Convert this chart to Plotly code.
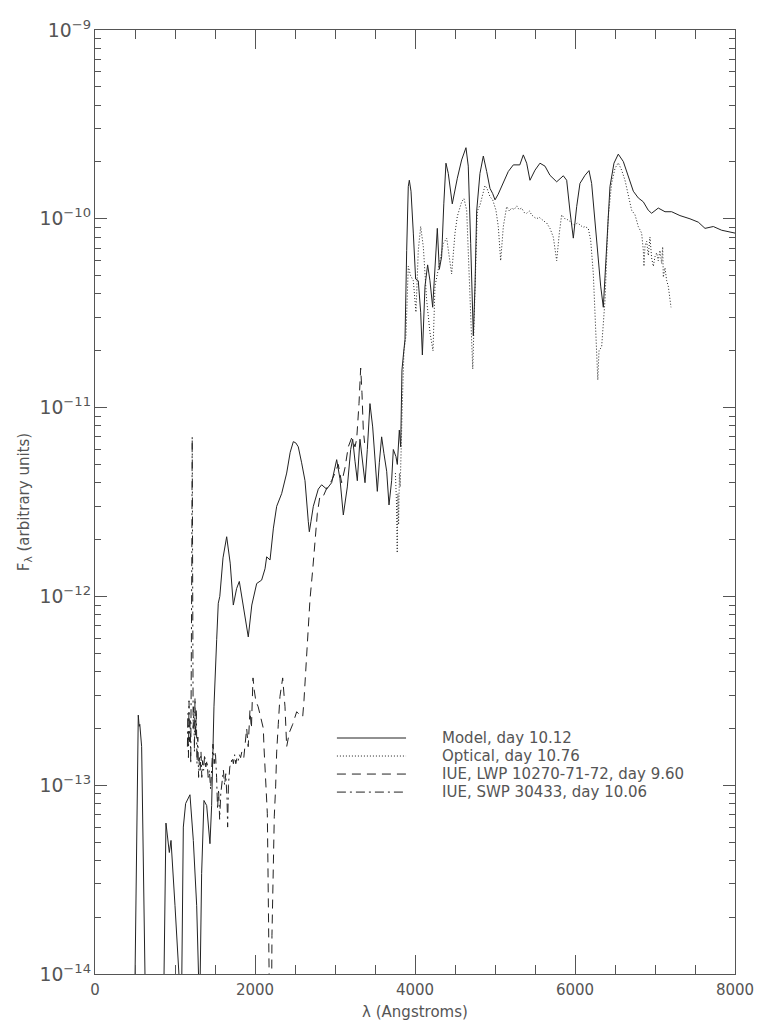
import plotly.graph_objects as go

# ---------------- data ----------------
model_wl = [498, 541, 552, 560, 583, 600, 628,
            860, 887, 929, 950, 1000, 1062,
            1083, 1104, 1133, 1187, 1229, 1271, 1300,
            1312, 1333, 1362, 1396, 1437, 1458, 1487, 1521, 1541, 1560, 1600, 1646,
            1690, 1729, 1770, 1804, 1850, 1916, 1960, 2021, 2083, 2125, 2146, 2188,
            2230, 2271, 2333, 2396, 2440, 2479, 2510, 2541, 2583, 2625, 2666, 2679,
            2700, 2729, 2791, 2833, 2896, 2958, 3021, 3062, 3104, 3154, 3196, 3221,
            3250, 3279, 3312, 3346, 3375, 3404, 3437, 3471, 3500, 3529, 3554, 3583,
            3612, 3646, 3675, 3708, 3729, 3762, 3779, 3804, 3821, 3837, 3855, 3875,
            3896, 3916, 3929, 3950, 3979, 4008, 4041, 4071, 4092, 4125, 4158, 4187,
            4221, 4250, 4279, 4304, 4333, 4360, 4387, 4416, 4466, 4529, 4583, 4637,
            4666, 4696, 4729, 4750, 4771, 4812, 4854, 4896, 4937, 4971, 5000, 5040,
            5104, 5166, 5229, 5270, 5310, 5354, 5396, 5437, 5500, 5562, 5625, 5687,
            5771, 5854, 5896, 5937, 5979, 6021, 6062, 6125, 6175, 6208, 6271, 6321,
            6354, 6387, 6437, 6487, 6541, 6604, 6666, 6729, 6791, 6854, 6916, 6958,
            7041, 7125, 7208, 7312, 7437, 7541, 7625, 7729, 7833, 8000]
model_flux = [8e-15, 2.35e-13, 2.05e-13, 2.1e-13, 1.6e-13, 6e-14, 8e-15,
              8e-15, 6.3e-14, 4.4e-14, 5.1e-14, 2.3e-14, 8e-15,
              8e-15, 6e-14, 8e-14, 8.9e-14, 5.1e-14, 2.3e-14, 8e-15,
              8e-15, 3.4e-14, 8.3e-14, 7.8e-14, 4.9e-14, 7.8e-14, 2.6e-13, 5.9e-13, 9.2e-13, 1.0e-12, 1.6e-12, 2.07e-12,
              1.5e-12, 9e-13, 1.1e-12, 1.2e-12, 9e-13, 6.1e-13, 9e-13, 1.17e-12, 1.22e-12, 1.4e-12, 1.62e-12, 1.56e-12,
              2.3e-12, 3.0e-12, 3.5e-12, 4.5e-12, 5.8e-12, 6.6e-12, 6.5e-12, 6.2e-12, 5.1e-12, 4.1e-12, 2.5e-12, 2.2e-12,
              2.5e-12, 3.0e-12, 3.7e-12, 3.9e-12, 3.7e-12, 4.0e-12, 5.3e-12, 4.2e-12, 2.7e-12, 3.8e-12, 6.0e-12, 6.8e-12,
              5.2e-12, 4.1e-12, 6.8e-12, 5.2e-12, 4.0e-12, 6.0e-12, 1.05e-11, 7.9e-12, 5.2e-12, 3.6e-12, 5.1e-12, 7.0e-12,
              5.7e-12, 4.6e-12, 3.05e-12, 4.1e-12, 6.0e-12, 5.5e-12, 5.0e-12, 7.6e-12, 6.2e-12, 1.58e-11, 1.9e-11, 2.3e-11,
              6.8e-11, 1.48e-10, 1.6e-10, 1.4e-10, 8.4e-11, 4.8e-11, 4.7e-11, 3.2e-11, 1.9e-11, 4.4e-11, 5.7e-11, 4.7e-11,
              3.4e-11, 5.6e-11, 8.9e-11, 5.4e-11, 6.3e-11, 1.2e-10, 1.97e-10, 1.74e-10, 1.2e-10, 1.64e-10, 2.05e-10, 2.38e-10,
              1.9e-10, 7.4e-11, 2.4e-11, 4.4e-11, 1.1e-10, 1.74e-10, 2.15e-10, 1.78e-10, 1.45e-10, 1.36e-10, 1.26e-10, 1.35e-10,
              1.57e-10, 1.78e-10, 1.93e-10, 1.93e-10, 1.93e-10, 2.18e-10, 1.97e-10, 1.6e-10, 1.81e-10, 1.97e-10, 1.9e-10, 1.7e-10,
              1.57e-10, 1.69e-10, 1.6e-10, 1.1e-10, 7.9e-11, 1.16e-10, 1.54e-10, 1.7e-10, 1.8e-10, 1.54e-10, 7.7e-11, 4.4e-11,
              3.4e-11, 5.8e-11, 1.48e-10, 1.97e-10, 2.2e-10, 2.01e-10, 1.7e-10, 1.4e-10, 1.29e-10, 1.23e-10, 1.11e-10, 1.07e-10,
              1.14e-10, 1.09e-10, 1.09e-10, 1.04e-10, 1.0e-10, 9.6e-11, 8.9e-11, 9.1e-11, 8.7e-11, 8.4e-11]

optical_wl = [3755, 3768, 3778, 3786, 3795, 3805, 3815, 3825, 3840, 3862, 3887, 3916, 3945,
              3979, 4012, 4041, 4071, 4104, 4146, 4187, 4225, 4250, 4279, 4312, 4354, 4396,
              4429, 4458, 4500, 4529, 4583, 4612, 4646, 4675, 4708, 4722, 4740, 4750, 4779,
              4812, 4854, 4875, 4900, 4937, 4971, 5012, 5041, 5071, 5104, 5146, 5180, 5208,
              5240, 5271, 5300, 5333, 5365, 5396, 5430, 5458, 5490, 5521, 5550, 5583, 5615,
              5646, 5687, 5729, 5771, 5804, 5833, 5875, 5905, 5937, 5970, 6000, 6030, 6062,
              6100, 6125, 6166, 6196, 6229, 6260, 6285, 6300, 6333, 6375, 6416, 6458, 6500,
              6541, 6583, 6625, 6666, 6708, 6750, 6791, 6833, 6854, 6862, 6875, 6896, 6916,
              6937, 6958, 6979, 7000, 7021, 7041, 7062, 7083, 7096, 7104, 7125, 7146, 7166,
              7187, 7200]
optical_flux = [4.5e-12, 3.2e-12, 1.7e-12, 3.5e-12, 2.4e-12, 4.5e-12, 3.8e-12, 6e-12, 1.0e-11, 2.0e-11, 2.4e-11, 5.6e-11, 5.0e-11,
                4.7e-11, 3.2e-11, 6.8e-11, 9.1e-11, 7.1e-11, 3.7e-11, 2.5e-11, 2.0e-11, 4.4e-11, 5.1e-11, 6.0e-11, 7.4e-11, 7.9e-11,
                6.3e-11, 5.1e-11, 8.4e-11, 1.03e-10, 1.23e-10, 1.28e-10, 1.11e-10, 5.6e-11, 2.5e-11, 1.6e-11, 3.0e-11, 4.4e-11, 1.1e-10,
                1.18e-10, 1.36e-10, 1.5e-10, 1.45e-10, 1.31e-10, 1.26e-10, 1.11e-10, 9.1e-11, 6.0e-11, 9.1e-11, 1.16e-10, 1.1e-10, 1.14e-10,
                1.12e-10, 1.17e-10, 1.12e-10, 1.14e-10, 1.08e-10, 1.07e-10, 1.1e-10, 1.05e-10, 1.02e-10, 1.0e-10, 1.02e-10, 9.9e-11, 9.7e-11,
                9.5e-11, 8.9e-11, 8.0e-11, 6.0e-11, 8.4e-11, 1.05e-10, 1.0e-10, 9.9e-11, 9.7e-11, 9.3e-11, 9.3e-11, 9.5e-11, 9.3e-11,
                9.0e-11, 9.1e-11, 8.9e-11, 7.7e-11, 5.1e-11, 2.5e-11, 1.4e-11, 2.0e-11, 2.1e-11, 3.7e-11, 1.03e-10, 1.54e-10, 1.85e-10,
                1.98e-10, 1.81e-10, 1.6e-10, 1.36e-10, 1.11e-10, 1.05e-10, 9.1e-11, 8.4e-11, 6.8e-11, 5.6e-11, 7.2e-11, 7.6e-11, 6.4e-11,
                8.0e-11, 6.2e-11, 5.6e-11, 6.3e-11, 6.6e-11, 6.0e-11, 6.8e-11, 5.8e-11, 7.1e-11, 4.9e-11, 5.5e-11, 4.7e-11, 4.4e-11,
                3.6e-11, 3.4e-11]

lwp_wl = [1860, 1875, 1896, 1915, 1937, 1955, 1975, 1990, 2010, 2040, 2070, 2104, 2112, 2137,
          2154, 2162, 2171, 2179, 2208, 2212, 2229, 2241, 2258, 2271, 2291, 2312, 2346, 2375,
          2396, 2429, 2471, 2521, 2562, 2596, 2612, 2637, 2666, 2687, 2721, 2750, 2779, 2812,
          2854, 2904, 2958, 3000, 3041, 3083, 3125, 3166, 3208, 3250, 3271, 3300, 3321, 3337,
          3354, 3370]
lwp_flux = [1.4e-13, 1.7e-13, 2.0e-13, 1.6e-13, 2.5e-13, 2.0e-13, 3.7e-13, 3.2e-13, 2.8e-13, 2.6e-13, 2.3e-13, 2.0e-13, 1.6e-13, 9.8e-14,
            7.1e-14, 3.7e-14, 1.6e-14, 8e-15, 8e-15, 1.6e-14, 3.7e-14, 6.8e-14, 9.8e-14, 1.5e-13, 2.1e-13, 2.95e-13, 3.7e-13, 2.6e-13,
            1.6e-13, 1.9e-13, 2.1e-13, 2.45e-13, 2.35e-13, 2.3e-13, 2.8e-13, 4.2e-13, 6.9e-13, 9.6e-13, 1.38e-12, 2.0e-12, 2.75e-12, 3.4e-12,
            3.4e-12, 3.8e-12, 4.1e-12, 4.5e-12, 5.0e-12, 4.0e-12, 4.8e-12, 6.2e-12, 6.9e-12, 6.2e-12, 6.8e-12, 1.05e-11, 1.62e-11, 1.2e-11,
            7.6e-12, 6.5e-12]

swp_wl = [1155, 1162, 1168, 1175, 1182, 1190, 1197, 1204, 1210, 1215, 1221, 1227, 1235, 1243,
          1250, 1258, 1266, 1275, 1285, 1295, 1305, 1315, 1325, 1335, 1345, 1358, 1370, 1385,
          1400, 1415, 1430, 1445, 1460, 1475, 1490, 1505, 1520, 1532, 1545, 1558, 1572, 1590,
          1605, 1620, 1635, 1650, 1658, 1668, 1685, 1700, 1715, 1730, 1745, 1760, 1775, 1790,
          1805, 1820, 1835, 1850]
swp_flux = [1.6e-13, 2.4e-13, 1.4e-13, 2.8e-13, 1.7e-13, 2.2e-13, 1.3e-13, 3.0e-13, 1.5e-12, 7.0e-12, 1.2e-12, 2.0e-13, 2.6e-13, 1.5e-13,
            2.9e-13, 1.8e-13, 2.5e-13, 1.3e-13, 1.8e-13, 1.1e-13, 1.4e-13, 1.2e-13, 1.5e-13, 1.1e-13, 1.35e-13, 1.2e-13, 1.45e-13, 1.25e-13,
            1.35e-13, 1.1e-13, 1.2e-13, 9.5e-14, 1.3e-13, 1.65e-13, 1.3e-13, 1.5e-13, 1.1e-13, 7.5e-14, 9.5e-14, 6.6e-14, 9e-14, 1.1e-13,
            1.2e-13, 1.0e-13, 1.15e-13, 8.5e-14, 6e-14, 1.0e-13, 1.25e-13, 1.3e-13, 1.4e-13, 1.3e-13, 1.45e-13, 1.3e-13, 1.4e-13, 1.35e-13,
            1.45e-13, 1.4e-13, 1.5e-13, 1.45e-13]

legend_labels = ["Model, day 10.12", "Optical, day 10.76",
                 "IUE, LWP 10270-71-72, day 9.60", "IUE, SWP 30433, day 10.06"]
x_title = "λ (Angstroms)"
y_title = "F<sub>λ</sub> (arbitrary units)"

# ---------------- styling ----------------
LINE_COL = "#222222"
AX_COL = "#555555"
TXT_COL = "#555555"
FONT = "DejaVu Sans"
dashes = ["solid", "1px,2px", "9px,6px", "9px,4px,2px,4px"]

fig = go.Figure()
series = [(model_wl, model_flux), (optical_wl, optical_flux),
          (lwp_wl, lwp_flux), (swp_wl, swp_flux)]
for (xs, ys), name, d in zip(series, legend_labels, dashes):
    fig.add_trace(go.Scatter(x=xs, y=ys, mode="lines", name=name, showlegend=False,
                             line=dict(color=LINE_COL, width=1, dash=d)))

# manual legend (IDL-style: long sample line, then label)
leg_y0 = 0.25
leg_dy = 0.0191
for i, (name, d) in enumerate(zip(legend_labels, dashes)):
    yy = leg_y0 - i * leg_dy
    fig.add_shape(type="line", xref="paper", yref="paper", x0=0.378, x1=0.486,
                  y0=yy, y1=yy, line=dict(color=LINE_COL, width=1, dash=d))
    fig.add_annotation(xref="paper", yref="paper", x=0.539, y=yy, text=name,
                       showarrow=False, xanchor="left", yanchor="middle",
                       font=dict(family=FONT, size=15, color=TXT_COL))

# the page adds an 8px body margin, so the figure is sized to fit the window
fig.update_layout(
    width=747, height=1019,
    margin=dict(l=87, r=20, t=22, b=53, autoexpand=False),
    paper_bgcolor="white", plot_bgcolor="white",
    font=dict(family=FONT, size=15, color=TXT_COL),
    showlegend=False,
)
fig.update_xaxes(
    range=[0, 8000], tick0=0, dtick=2000, showgrid=False, zeroline=False,
    showline=True, linecolor=AX_COL, linewidth=1, mirror="ticks",
    ticks="inside", ticklen=19, tickcolor=AX_COL, tickwidth=1,
    minor=dict(ticks="inside", dtick=500, ticklen=9, tickcolor=AX_COL, showgrid=False),
    tickfont=dict(family=FONT, size=15, color=TXT_COL), ticklabelstandoff=2,
    title=dict(text=x_title, standoff=8, font=dict(family=FONT, size=15, color=TXT_COL)),
    automargin=False,
)
fig.update_yaxes(
    type="log", range=[-14, -9], dtick=1, exponentformat="power", showexponent="all",
    showgrid=False, zeroline=False,
    showline=True, linecolor=AX_COL, linewidth=1, mirror="ticks",
    ticks="inside", ticklen=12, tickcolor=AX_COL, tickwidth=1,
    minor=dict(ticks="inside", ticklen=6, tickcolor=AX_COL, showgrid=False),
    tickfont=dict(family=FONT, size=15, color=TXT_COL),
    title=dict(text=y_title, standoff=6, font=dict(family=FONT, size=15, color=TXT_COL)),
    automargin=False,
)

fig.write_html("out.html")
